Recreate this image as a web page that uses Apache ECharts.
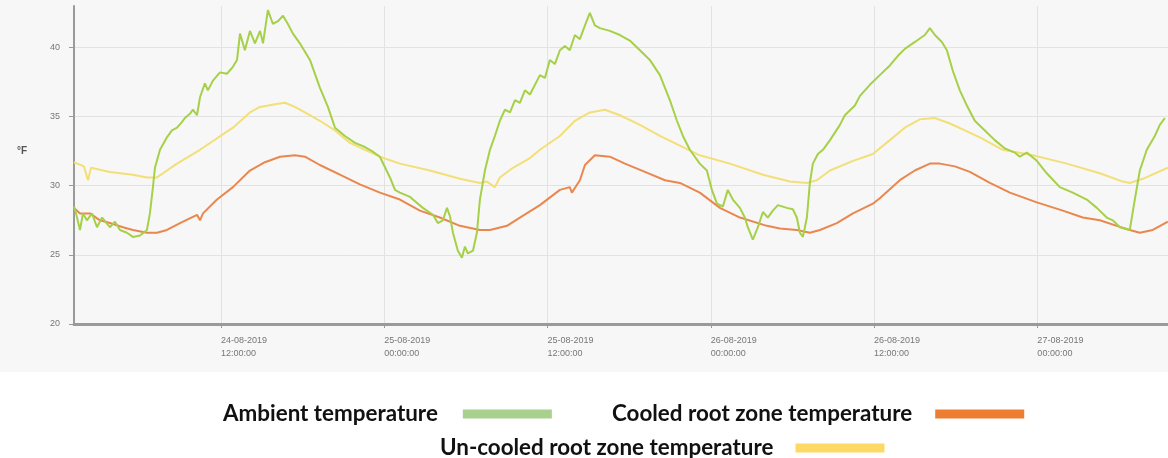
<!DOCTYPE html>
<html>
<head>
<meta charset="utf-8">
<script src="https://cdn.jsdelivr.net/npm/echarts@6/dist/echarts.min.js"></script>
<style>
html,body{margin:0;padding:0;background:#ffffff;}
#chart{width:1168px;height:458px;}
</style>
</head>
<body>
<div id="chart"></div>
<script>
// Hours since 24-08-2019 00:00 and temperatures
const ambientHours = [1.20,1.35,1.64,1.86,2.15,2.52,2.89,3.26,3.84,4.21,4.58,5.09,5.53,6.05,6.56,6.78,7.00,7.15,7.52,8.03,8.40,8.77,9.13,9.35,9.72,9.94,10.24,10.46,10.82,11.04,11.41,11.93,12.44,12.88,13.18,13.40,13.76,14.13,14.50,14.87,15.09,15.45,15.82,16.19,16.56,16.92,17.29,17.80,18.54,19.27,19.86,20.38,21.11,21.85,22.58,23.10,23.68,24.42,24.79,25.15,25.89,26.11,26.84,27.58,27.94,28.31,28.61,28.83,29.05,29.41,29.71,29.93,30.15,30.52,30.81,31.03,31.40,31.77,32.13,32.50,32.87,33.24,33.61,33.97,34.34,34.71,35.44,35.81,36.17,36.54,36.91,37.28,37.64,38.01,38.38,38.75,39.11,39.48,39.85,40.58,41.32,42.05,42.79,43.52,44.26,44.99,45.51,45.95,46.46,47.19,47.71,48.08,48.45,48.89,49.25,49.62,50.14,50.50,50.72,51.09,51.46,51.83,52.19,52.56,52.93,53.59,54.03,54.32,54.55,54.77,55.06,55.28,55.50,55.87,56.24,56.76,57.49,57.85,58.59,58.96,59.69,60.42,61.16,61.75,62.26,63.00,63.73,64.10,64.47,64.98,65.35,65.79,66.30,66.82,67.40,68.14,68.87,69.61,70.34,70.71,71.22,71.96,72.69,73.65,74.60,75.63,76.37,77.10,77.54,78.06,78.79,79.16,79.53,80.04,80.63,81.00,81.37];
const ambientTemp = [28.5,28.0,26.8,28.0,27.5,28.0,27.0,27.7,27.0,27.4,26.8,26.6,26.3,26.4,26.8,28.0,29.9,31.3,32.6,33.5,34.0,34.2,34.6,34.9,35.2,35.5,35.1,36.4,37.4,36.9,37.6,38.2,38.1,38.6,39.1,41.0,39.8,41.2,40.3,41.2,40.3,42.7,41.7,41.9,42.3,41.7,41.0,40.3,39.1,37.1,35.7,34.2,33.6,33.1,32.8,32.5,32.1,30.6,29.7,29.5,29.2,29.0,28.4,27.9,27.3,27.5,28.4,27.8,26.6,25.3,24.8,25.6,25.1,25.3,26.6,29.0,31.1,32.6,33.6,34.7,35.5,35.3,36.2,36.0,36.9,36.6,38.0,37.8,39.1,38.8,39.8,40.1,39.8,40.9,40.6,41.6,42.5,41.6,41.4,41.2,40.9,40.5,39.8,39.1,38.0,36.2,34.7,33.6,32.6,31.6,31.1,29.7,28.7,28.5,29.7,29.0,28.4,27.7,27.0,26.1,27.0,28.1,27.7,28.2,28.6,28.4,28.3,27.7,26.6,26.3,27.7,30.2,31.6,32.3,32.6,33.3,34.4,35.1,35.8,36.5,37.3,38.0,38.7,39.4,39.9,40.4,40.9,41.4,40.9,40.4,39.8,38.3,36.9,35.8,34.7,34.0,33.3,32.7,32.4,32.1,32.4,31.8,30.9,29.9,29.5,29.0,28.4,27.7,27.5,27.0,26.8,29.0,31.1,32.6,33.6,34.4,34.9];

const cooledHours = [1.20,1.64,2.37,3.11,3.84,4.80,5.53,6.56,7.30,8.03,8.99,10.24,10.46,10.68,11.71,12.88,14.13,15.23,16.34,17.44,18.17,19.27,20.74,22.21,23.68,25.15,26.62,28.09,29.56,31.03,31.77,33.02,33.97,35.44,36.91,37.64,37.79,38.38,38.75,39.48,40.58,41.69,43.16,44.63,45.73,47.19,48.67,50.14,52.12,53.08,54.32,55.28,56.02,57.26,58.45,59.91,60.42,61.89,62.99,64.10,64.83,65.94,67.04,68.51,69.98,71.96,73.87,75.34,76.59,77.84,78.79,79.53,80.48,81.59];
const cooledTemp = [28.4,28.0,28.0,27.5,27.3,27.0,26.8,26.6,26.6,26.8,27.3,27.9,27.5,28.0,29.0,29.9,31.1,31.7,32.1,32.2,32.1,31.5,30.8,30.1,29.5,29.0,28.2,27.7,27.1,26.8,26.8,27.1,27.7,28.6,29.7,29.9,29.5,30.4,31.5,32.2,32.1,31.6,31.0,30.4,30.2,29.5,28.4,27.7,27.1,26.9,26.8,26.6,26.8,27.3,28.0,28.7,29.1,30.4,31.1,31.6,31.6,31.4,31.0,30.2,29.5,28.8,28.2,27.7,27.5,27.1,26.8,26.6,26.8,27.4];

const uncooledHours = [1.20,1.93,2.23,2.45,3.84,5.53,6.56,7.30,7.74,8.77,10.46,12.88,14.13,14.87,15.97,16.70,17.44,18.17,19.27,20.38,21.48,22.58,23.68,25.15,27.36,29.56,31.03,31.55,32.13,32.50,33.46,34.71,35.44,36.91,38.01,39.11,40.22,41.32,42.79,44.26,45.73,47.19,49.40,51.83,53.81,55.06,55.79,56.76,58.45,59.91,61.16,62.26,63.36,64.47,65.57,66.67,67.77,69.46,71.67,74.16,76.59,78.28,78.79,79.75,81.59];
const uncooledTemp = [31.7,31.4,30.4,31.3,31.0,30.8,30.6,30.6,30.9,31.6,32.6,34.2,35.3,35.7,35.9,36.0,35.7,35.3,34.7,34.0,33.1,32.6,32.1,31.6,31.1,30.5,30.2,30.3,29.9,30.6,31.3,32.0,32.6,33.6,34.7,35.3,35.5,35.1,34.4,33.6,32.9,32.2,31.6,30.8,30.3,30.2,30.4,31.1,31.8,32.3,33.3,34.2,34.8,34.9,34.5,34.0,33.5,32.6,32.2,31.6,30.9,30.3,30.2,30.5,31.3];

// x tick positions (hours since 24-08-2019 00:00) and their labels
const xTickHours = [12, 24, 36, 48, 60, 72];
const xTickLabels = ['24-08-2019\n12:00:00', '25-08-2019\n00:00:00', '25-08-2019\n12:00:00', '26-08-2019\n00:00:00', '26-08-2019\n12:00:00', '27-08-2019\n00:00:00'];
const xRange = [1.2, 81.6];

const seriesNames = ['Ambient temperature', 'Cooled root zone temperature', 'Un-cooled root zone temperature'];
const lineColors = ['#a6d047', '#e9874f', '#f3df78'];
const legendColors = ['#a9d18e', '#ed7d31', '#ffd966'];
const yTicks = [20, 25, 30, 35, 40];
const yUnit = '°F';

function toPairs(hours, temps) { return hours.map((h, i) => [h, temps[i]]); }

const chart = echarts.init(document.getElementById('chart'));
function mkLegend(i, left, top, gap) {
  return {
    show: true, left: left, top: top, padding: 0, orient: 'horizontal', align: 'right',
    icon: 'rect', itemWidth: 89, itemHeight: 9, selectedMode: false,
    data: [{ name: seriesNames[i], itemStyle: { color: legendColors[i] } }],
    textStyle: { fontFamily: 'Lato', fontWeight: 'bold', fontSize: 22.4, color: '#111', padding: [0, gap, 0, 0] }
  };
}

chart.setOption({
  animation: false,
  backgroundColor: '#ffffff',
  graphic: [
    { type: 'rect', left: 0, top: 0, z: -100, silent: true, shape: { width: 1168, height: 372 }, style: { fill: '#f7f7f7' } },
    { type: 'text', left: 17, top: 146, silent: true, style: { text: yUnit, fontFamily: 'Liberation Sans', fontSize: 10, fontWeight: 'bold', fill: '#555' } }
  ],
  grid: { left: 74, right: 0, top: 6, bottom: 134, containLabel: false },
  legend: [mkLegend(0, 223, 403, 20), mkLegend(1, 612, 403, 18), mkLegend(2, 440, 437, 17)],
  xAxis: {
    type: 'value',
    min: xRange[0],
    max: xRange[1],
    axisLine: { lineStyle: { color: '#9a9a9a', width: 3 } },
    axisTick: { show: true, length: 4, customValues: xTickHours, lineStyle: { color: '#9a9a9a', width: 1 } },
    splitLine: { show: true, lineStyle: { color: '#e2e2e2', width: 1 } },
    axisLabel: {
      customValues: xTickHours,
      align: 'left', margin: 10, fontSize: 9, lineHeight: 13,
      fontFamily: 'Liberation Sans', color: '#777',
      formatter: function (v) {
        const i = xTickHours.indexOf(v);
        return i >= 0 ? xTickLabels[i] : '';
      }
    }
  },
  yAxis: {
    type: 'value',
    min: yTicks[0], max: 43, interval: 5,
    axisLine: { show: true, lineStyle: { color: '#9a9a9a', width: 2 } },
    axisTick: { show: true, length: 5, lineStyle: { color: '#9a9a9a' } },
    splitLine: { show: true, showMaxLine: false, lineStyle: { color: '#e2e2e2', width: 1 } },
    axisLabel: { showMaxLabel: false, margin: 14, fontSize: 9, fontFamily: 'Liberation Sans', color: '#777' }
  },
  series: [
    { name: seriesNames[2], type: 'line', showSymbol: false, data: toPairs(uncooledHours, uncooledTemp), lineStyle: { color: lineColors[2], width: 2 }, itemStyle: { color: lineColors[2] }, z: 2 },
    { name: seriesNames[1], type: 'line', showSymbol: false, data: toPairs(cooledHours, cooledTemp), lineStyle: { color: lineColors[1], width: 2 }, itemStyle: { color: lineColors[1] }, z: 3 },
    { name: seriesNames[0], type: 'line', showSymbol: false, data: toPairs(ambientHours, ambientTemp), lineStyle: { color: lineColors[0], width: 2 }, itemStyle: { color: lineColors[0] }, z: 4 }
  ]
});
</script>
</body>
</html>
